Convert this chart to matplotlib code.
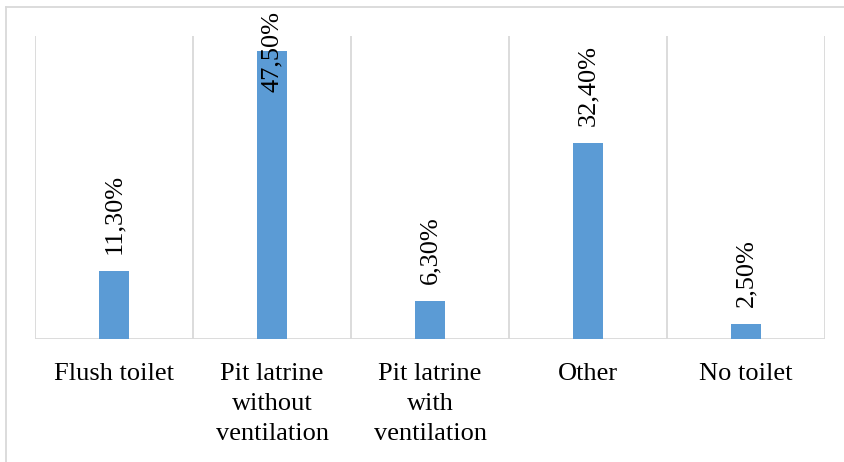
import matplotlib
matplotlib.use("Agg")
import matplotlib.pyplot as plt
from matplotlib.lines import Line2D

categories = ["Flush toilet", "Pit latrine\nwithout\nventilation", "Pit latrine\nwith\nventilation", "Other", "No toilet"]
values = [11.3, 47.5, 6.3, 32.4, 2.5]
labels = ["11,30%", "47,50%", "6,30%", "32,40%", "2,50%"]

plt.rcParams['font.family'] = ['Liberation Serif', 'DejaVu Serif']

W, H, DPI = 845, 462, 100
fig = plt.figure(figsize=(W / DPI, H / DPI), dpi=DPI)
ax = fig.add_axes([35 / W, 1 - 339 / H, (825 - 35) / W, (339 - 36) / H])

x = list(range(len(values)))
ax.bar(x, values, width=0.185, color="#5B9BD5", zorder=3)
ax.set_xlim(-0.5, len(values) - 0.5)
ax.set_ylim(0, 50)

grid_c = "#d9d9d9"
for b in range(len(values) + 1):
    ax.axvline(b - 0.5, color=grid_c, lw=1.3, zorder=1)
ax.axhline(0, color=grid_c, lw=1.3, zorder=2)

for s in ax.spines.values():
    s.set_visible(False)
ax.set_yticks([])
ax.set_xticks(x)
ax.set_xticklabels(categories, fontsize=19, linespacing=1.48)
ax.tick_params(axis='x', length=0, pad=17)

for xi, v, lab in zip(x, values, labels):
    if v > 45:
        ax.text(xi, 54.2, lab, rotation=90, ha='center', va='top', fontsize=19, clip_on=False)
    else:
        ax.annotate(lab, (xi, v), xytext=(0, 12), textcoords='offset points',
                    rotation=90, ha='center', va='bottom', fontsize=19)

# outer chart border (top and left visible)
fig.add_artist(Line2D([6 / W, 1], [1 - 7 / H, 1 - 7 / H], color=grid_c, lw=1.3, transform=fig.transFigure))
fig.add_artist(Line2D([6 / W, 6 / W], [0, 1 - 7 / H], color=grid_c, lw=1.3, transform=fig.transFigure))

fig.savefig("out.png", dpi=DPI)
